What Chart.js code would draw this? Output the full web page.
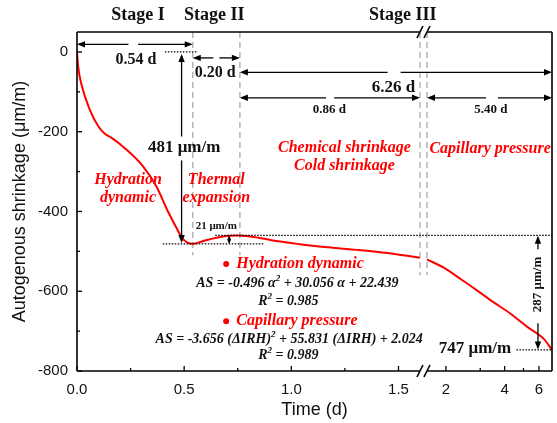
<!DOCTYPE html>
<html>
<head>
<meta charset="utf-8">
<script src="https://cdn.jsdelivr.net/npm/chart.js@4.4.0/dist/chart.umd.min.js"></script>
<style>
  body { margin: 0; background: #fff; }
</style>
</head>
<body>
<canvas id="shrinkChart" width="557" height="423"></canvas>
<script>
// autogenous shrinkage (µm/m) over time (d), before and after the axis break
const earlyDays = [0, 0.005, 0.02, 0.06, 0.1, 0.13, 0.16, 0.22, 0.31, 0.37, 0.42, 0.46, 0.49, 0.515, 0.54, 0.59, 0.65, 0.71, 0.75, 0.8, 0.86, 0.93, 1.04, 1.17, 1.34, 1.49, 1.6];
const earlyShrink = [0, -35, -80, -145, -187, -205, -215, -240, -288, -337, -395, -437, -466, -478, -481, -474, -466, -461, -460, -462, -467, -474, -482, -490, -498, -507, -516];
const lateDays = [1.6, 1.95, 2.39, 2.91, 3.52, 4.31, 5.25, 6.37, 7.0];
const lateShrink = [-520, -541, -570, -599, -628, -657, -690, -720, -747];

const xTickDays = [0, 0.5, 1.0, 1.5, 2, 4, 6];
const xTickLabels = ['0.0', '0.5', '1.0', '1.5', '2', '4', '6'];
const xMinorDays = [0.25, 0.75, 1.25, 3, 5];
const yTicks = [0, -200, -400, -600, -800];
const yMinor = [-100, -300, -500, -700];

const stageEnds = [0.54, 0.76];
const breakDay = 1.6;
const endDay = 7.0;

// x axis: linear in days up to the break, then log-compressed
const BREAK_GAP = 0.033;
const LOG_SCALE = 0.91;
function toLate(d) {
  return breakDay + BREAK_GAP + (Math.log10(d) - Math.log10(breakDay)) * LOG_SCALE;
}
function toAxis(d) {
  return d <= breakDay ? d : toLate(d);
}

const SERIF = '"Liberation Serif", "Times New Roman", serif';
const SANS = '"Liberation Sans", Arial, sans-serif';
const RED = '#ff0000';

function line(ctx, x1, y1, x2, y2) {
  ctx.beginPath();
  ctx.moveTo(x1, y1);
  ctx.lineTo(x2, y2);
  ctx.stroke();
}

function head(ctx, x, y, angle, L = 8, W = 3.2) {
  ctx.save();
  ctx.translate(x, y);
  ctx.rotate(angle);
  ctx.beginPath();
  ctx.moveTo(0, 0);
  ctx.lineTo(-L, -W);
  ctx.lineTo(-L, W);
  ctx.closePath();
  ctx.fill();
  ctx.restore();
}

// horizontal double arrow with a break in the shaft
function hArrow(ctx, x1, x2, y, g1, g2) {
  line(ctx, x1 + 2, y, g1, y);
  line(ctx, g2, y, x2 - 2, y);
  head(ctx, x1, y, Math.PI);
  head(ctx, x2, y, 0);
}

function text(ctx, str, x, y, font, color, align = 'center') {
  ctx.font = font;
  ctx.fillStyle = color;
  ctx.textAlign = align;
  ctx.textBaseline = 'middle';
  ctx.fillText(str, x, y);
}

// text runs with superscripts, centred on (cx, cy)
function rich(ctx, parts, cx, cy, size, color) {
  const base = `italic bold ${size}px ${SERIF}`;
  const sup = `italic bold ${Math.round(size * 0.65)}px ${SERIF}`;
  let w = 0;
  parts.forEach(p => {
    ctx.font = typeof p === 'string' ? base : sup;
    w += ctx.measureText(typeof p === 'string' ? p : p.sup).width;
  });
  let x = cx - w / 2;
  ctx.fillStyle = color;
  ctx.textAlign = 'left';
  ctx.textBaseline = 'middle';
  parts.forEach(p => {
    const s = typeof p === 'string' ? p : p.sup;
    ctx.font = typeof p === 'string' ? base : sup;
    ctx.fillText(s, x, typeof p === 'string' ? cy : cy - size * 0.35);
    x += ctx.measureText(s).width;
  });
}

const decor = {
  id: 'decor',
  beforeDatasetsDraw(chart) {
    const { ctx, scales: { x: xs, y: ys }, chartArea: a } = chart;
    const X = d => xs.getPixelForValue(toAxis(d));
    const Y = v => ys.getPixelForValue(v);
    ctx.save();
    ctx.strokeStyle = '#b4b4b4';
    ctx.lineWidth = 1.5;
    ctx.setLineDash([6, 4]);
    stageEnds.forEach(d => line(ctx, X(d), a.top, X(d), Y(-510)));
    line(ctx, X(breakDay), a.top, X(breakDay), Y(-560));
    const xr = xs.getPixelForValue(toLate(breakDay));
    line(ctx, xr, a.top, xr, Y(-560));
    ctx.restore();
  },
  afterDatasetsDraw(chart) {
    const { ctx, scales: { x: xs, y: ys }, chartArea: a } = chart;
    const X = d => xs.getPixelForValue(toAxis(d));
    const XL = d => xs.getPixelForValue(toLate(d));
    const Y = v => ys.getPixelForValue(v);
    const cutL = X(breakDay), cutR = XL(breakDay);

    ctx.save();
    ctx.strokeStyle = '#000';
    ctx.fillStyle = '#000';

    // frame with the break on top and bottom
    ctx.lineWidth = 1.6;
    line(ctx, a.left, a.top, a.left, a.bottom);
    line(ctx, a.right, a.top, a.right, a.bottom);
    [a.top, a.bottom].forEach(yy => {
      line(ctx, a.left, yy, cutL, yy);
      line(ctx, cutR, yy, a.right, yy);
      const cx = (cutL + cutR) / 2;
      [-3.5, 3.5].forEach(o => line(ctx, cx + o - 3, yy + 6, cx + o + 3, yy - 6));
    });

    // inward ticks
    ctx.lineWidth = 1.3;
    xTickDays.forEach(d => line(ctx, X(d), a.bottom, X(d), a.bottom - 5));
    xMinorDays.forEach(d => line(ctx, X(d), a.bottom, X(d), a.bottom - 3));
    yTicks.forEach(v => line(ctx, a.left, Y(v), a.left + 5, Y(v)));
    yMinor.forEach(v => line(ctx, a.left, Y(v), a.left + 3, Y(v)));

    // dotted reference levels
    ctx.lineWidth = 1.2;
    ctx.setLineDash([1.5, 1.5]);
    line(ctx, X(0.41), Y(0), X(0.56), Y(0));
    line(ctx, X(0.40), Y(-481), X(0.87), Y(-481));
    line(ctx, X(0.645), Y(-460), a.right, Y(-460));
    line(ctx, XL(4.6), Y(-747), a.right, Y(-747));
    ctx.setLineDash([]);

    // duration arrows
    ctx.lineWidth = 1.3;
    hArrow(ctx, a.left, X(stageEnds[0]), Y(19), X(0.24), X(0.285));
    const m = (X(stageEnds[0]) + X(stageEnds[1])) / 2;
    hArrow(ctx, X(stageEnds[0]), X(stageEnds[1]), Y(-15), m - 3, m + 3);
    hArrow(ctx, X(stageEnds[1]), a.right, Y(-51), X(1.449), X(1.51));
    hArrow(ctx, X(stageEnds[1]), cutL, Y(-115), X(1.162), X(1.2));
    hArrow(ctx, cutR, a.right, Y(-115), XL(3.21), XL(3.7));

    // 481 µm/m drop
    const xv = X(0.488);
    line(ctx, xv, Y(-10), xv, Y(-212));
    line(ctx, xv, Y(-272), xv, Y(-473));
    head(ctx, xv, Y(-5), -Math.PI / 2);
    head(ctx, xv, Y(-479), Math.PI / 2);

    // 21 µm/m rebound
    const xs21 = X(0.71);
    line(ctx, xs21, Y(-462), xs21, Y(-479));
    head(ctx, xs21, Y(-461), -Math.PI / 2, 4, 2);
    head(ctx, xs21, Y(-480), Math.PI / 2, 4, 2);

    // 287 µm/m late shrinkage
    const x287 = XL(5.93);
    line(ctx, x287, Y(-495), x287, Y(-466));
    head(ctx, x287, Y(-461), -Math.PI / 2);
    line(ctx, x287, Y(-680), x287, Y(-741));
    head(ctx, x287, Y(-746), Math.PI / 2);

    // black labels
    const b = s => `bold ${s}px ${SERIF}`;
    text(ctx, 'Stage I', X(0.285), Y(92), b(18), '#111');
    text(ctx, 'Stage II', X(0.64), Y(92), b(18), '#111');
    text(ctx, 'Stage III', X(1.52), Y(92), b(18), '#111');
    text(ctx, '0.54 d', X(0.275), Y(-20), b(16), '#111');
    text(ctx, '0.20 d', X(0.645), Y(-52.5), b(16), '#111');
    text(ctx, '6.26 d', X(1.477), Y(-90), b(17), '#111');
    text(ctx, '0.86 d', X(1.178), Y(-145), b(13), '#111');
    text(ctx, '5.40 d', XL(3.4), Y(-145), b(13), '#111');
    text(ctx, '481 μm/m', X(0.50), Y(-240), b(17), '#111');
    text(ctx, '21 μm/m', X(0.65), Y(-437), b(11), '#111');
    text(ctx, '747 μm/m', XL(2.82), Y(-745), b(17), '#111');
    ctx.save();
    ctx.translate(x287, Y(-583));
    ctx.rotate(-Math.PI / 2);
    text(ctx, '287 μm/m', 0, 0, b(13), '#111');
    ctx.restore();

    // red mechanism labels
    const r = `italic bold 16px ${SERIF}`;
    text(ctx, 'Hydration', X(0.238), Y(-320), r, RED);
    text(ctx, 'dynamic', X(0.238), Y(-365), r, RED);
    text(ctx, 'Thermal', X(0.65), Y(-320), r, RED);
    text(ctx, 'expansion', X(0.65), Y(-365), r, RED);
    text(ctx, 'Chemical shrinkage', X(1.248), Y(-240), r, RED);
    text(ctx, 'Cold shrinkage', X(1.248), Y(-285), r, RED);
    text(ctx, 'Capillary pressure', XL(3.37), Y(-242), r, RED);

    // fitted models
    ctx.fillStyle = RED;
    [-532, -675].forEach(v => {
      ctx.beginPath();
      ctx.arc(X(0.696), Y(v), 3, 0, Math.PI * 2);
      ctx.fill();
    });
    text(ctx, 'Hydration dynamic', X(0.743), Y(-532), r, RED, 'left');
    text(ctx, 'Capillary pressure', X(0.743), Y(-675), r, RED, 'left');
    rich(ctx, ['AS = -0.496 α', { sup: '2' }, ' + 30.056 α + 22.439'], X(1.028), Y(-580), 14, '#111');
    rich(ctx, ['R', { sup: '2' }, ' = 0.985'], X(0.986), Y(-625), 14, '#111');
    rich(ctx, ['AS = -3.656 (ΔIRH)', { sup: '2' }, ' + 55.831 (ΔIRH) + 2.024'], X(0.99), Y(-720), 14, '#111');
    rich(ctx, ['R', { sup: '2' }, ' = 0.989'], X(0.986), Y(-762), 14, '#111');

    ctx.restore();
  }
};

const curveStyle = {
  borderColor: RED,
  borderWidth: 2,
  pointRadius: 0,
  fill: false,
  cubicInterpolationMode: 'monotone'
};

new Chart(document.getElementById('shrinkChart').getContext('2d'), {
  type: 'line',
  data: {
    datasets: [
      { ...curveStyle, data: earlyDays.map((d, i) => ({ x: toAxis(d), y: earlyShrink[i] })) },
      { ...curveStyle, data: lateDays.map((d, i) => ({ x: toLate(d), y: lateShrink[i] })) }
    ]
  },
  options: {
    responsive: false,
    animation: false,
    layout: { padding: { top: 32, right: 5, left: 0, bottom: 0 } },
    plugins: { legend: { display: false }, tooltip: { enabled: false } },
    scales: {
      x: {
        type: 'linear',
        min: 0,
        max: toLate(endDay),
        afterBuildTicks: s => { s.ticks = xTickDays.map(d => ({ value: toAxis(d) })); },
        afterFit: s => { s.height = 52; },
        grid: { display: false, drawTicks: false },
        border: { display: false },
        ticks: {
          autoSkip: false,
          maxRotation: 0,
          padding: 10,
          color: '#111',
          font: { family: SANS, size: 15 },
          callback: (v, i) => xTickLabels[i]
        },
        title: {
          display: true,
          text: 'Time (d)',
          color: '#111',
          font: { family: SANS, size: 18 },
          padding: { top: 0, bottom: 2 }
        }
      },
      y: {
        type: 'linear',
        min: -800,
        max: 50,
        afterBuildTicks: s => { s.ticks = yTicks.map(v => ({ value: v })); },
        afterFit: s => { s.width = 77; },
        grid: { display: false, drawTicks: false },
        border: { display: false },
        ticks: {
          padding: 9,
          color: '#111',
          font: { family: SANS, size: 15 }
        },
        title: {
          display: true,
          text: 'Autogenous shrinkage (μm/m)',
          color: '#111',
          font: { family: SANS, size: 18 },
          padding: { top: 9, bottom: 0 }
        }
      }
    }
  },
  plugins: [decor]
});
</script>
</body>
</html>
